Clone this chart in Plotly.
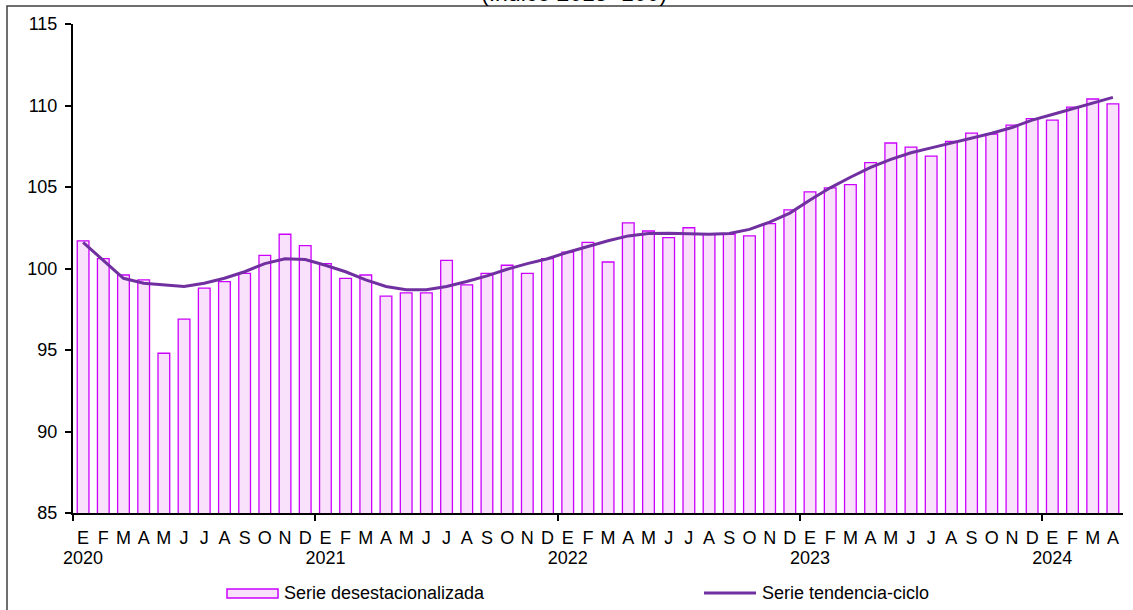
import plotly.graph_objects as go

# ---- data ----
month_letters = ["E", "F", "M", "A", "M", "J", "J", "A", "S", "O", "N", "D"]
years = ["2020", "2021", "2022", "2023", "2024"]

serie_desest = [
    101.7, 100.6, 99.6, 99.3, 94.8, 96.9, 98.8, 99.2, 99.7, 100.8, 102.1, 101.4,
    100.3, 99.4, 99.6, 98.3, 98.5, 98.5, 100.5, 99.0, 99.7, 100.2, 99.7, 100.6,
    101.0, 101.6, 100.4, 102.8, 102.3, 101.9, 102.5, 102.1, 102.1, 102.0, 102.75, 103.6,
    104.7, 104.95, 105.15, 106.5, 107.7, 107.45, 106.9, 107.8, 108.3, 108.25, 108.8, 109.2,
    109.1, 109.9, 110.4, 110.1,
]
serie_tend = [
    101.6, 100.5, 99.4, 99.1, 99.0, 98.9, 99.1, 99.4, 99.8, 100.3, 100.6, 100.55,
    100.2, 99.8, 99.3, 98.9, 98.7, 98.7, 98.9, 99.2, 99.55, 99.95, 100.3, 100.6,
    101.0, 101.35, 101.7, 102.0, 102.15, 102.17, 102.15, 102.1, 102.15, 102.4, 102.85, 103.4,
    104.2, 104.95, 105.6, 106.2, 106.7, 107.1, 107.4, 107.7, 108.0, 108.3, 108.65, 109.1,
    109.45, 109.8, 110.15, 110.5,
]
y_ticks = [85, 90, 95, 100, 105, 110, 115]

n = len(serie_desest)
xs = list(range(n))
tick_text = [month_letters[i % 12] for i in xs]
year_pos = [i for i in xs if i % 12 == 0]
year_bound = [i - 0.5 for i in year_pos]

FONT = "Arial, 'Liberation Sans', sans-serif"
FS = 18
BAR_FILL = "#F9E1FB"
BAR_LINE = "#CC00FF"
LINE_COL = "#7030A0"

fig = go.Figure()
fig.add_trace(go.Bar(
    x=xs, y=serie_desest, name="Serie desestacionalizada",
    marker=dict(color=BAR_FILL, line=dict(color=BAR_LINE, width=1.3)),
    showlegend=False,
))
fig.add_trace(go.Scatter(
    x=xs, y=serie_tend, name="Serie tendencia-ciclo", mode="lines",
    line=dict(color=LINE_COL, width=3), showlegend=False,
))
# invisible trace to activate the year axis
fig.add_trace(go.Scatter(x=[year_pos[0]], y=[serie_tend[0]], xaxis="x2",
                         mode="markers", marker=dict(opacity=0), showlegend=False,
                         hoverinfo="skip"))

L, R, T, B = 73, 10, 24, 97
W, H = 1133, 610
pw, ph = W - L - R, H - T - B

def px_x(p):
    return (p - L) / pw

def px_y(p):
    return (H - B - p) / ph

fig.update_layout(
    width=W, height=H,
    margin=dict(l=L, r=R, t=T, b=B),
    paper_bgcolor="white", plot_bgcolor="white",
    font=dict(family=FONT, size=FS, color="black"),
    bargap=0.42,
    xaxis=dict(
        range=[-0.5, n - 0.5],
        tickmode="array", tickvals=xs, ticktext=tick_text,
        ticks="", showgrid=False, zeroline=False,
        showline=True, linecolor="black", linewidth=2,
        ticklabelstandoff=7,
        tickfont=dict(size=FS),
        minor=dict(tickmode="array", tickvals=year_bound, ticks="outside",
                   ticklen=6, tickwidth=2, tickcolor="black", showgrid=False),
    ),
    xaxis2=dict(
        overlaying="x", matches="x", side="bottom", anchor="y",
        tickmode="array", tickvals=year_pos, ticktext=years,
        ticks="", showgrid=False, zeroline=False, showline=False,
        ticklabelstandoff=32, tickfont=dict(size=FS),
    ),
    yaxis=dict(
        range=[85, 115], tickmode="array", tickvals=y_ticks,
        ticks="outside", ticklen=6, tickwidth=2, tickcolor="black",
        showgrid=False, zeroline=False,
        showline=True, linecolor="black", linewidth=2,
        tickfont=dict(size=FS), ticklabelstandoff=4,
    ),
    shapes=[
        # outer frame
        dict(type="rect", xref="paper", yref="paper",
             x0=px_x(7), x1=px_x(1150), y0=px_y(630), y1=px_y(6),
             line=dict(color="#404040", width=1.5), fillcolor="rgba(0,0,0,0)"),
        # legend symbols
        dict(type="rect", xref="paper", yref="paper",
             x0=px_x(227), x1=px_x(278), y0=px_y(598), y1=px_y(589),
             line=dict(color=BAR_LINE, width=1.5), fillcolor=BAR_FILL),
        dict(type="line", xref="paper", yref="paper",
             x0=px_x(704), x1=px_x(756), y0=px_y(593), y1=px_y(593),
             line=dict(color=LINE_COL, width=3)),
    ],
    annotations=[
        dict(text="Serie desestacionalizada", xref="paper", yref="paper",
             x=px_x(282), y=px_y(593), xanchor="left", yanchor="middle",
             showarrow=False, font=dict(size=FS)),
        dict(text="Serie tendencia-ciclo", xref="paper", yref="paper",
             x=px_x(760), y=px_y(593), xanchor="left", yanchor="middle",
             showarrow=False, font=dict(size=FS)),
        dict(text="(Índice 2015=100)", xref="paper", yref="paper",
             x=px_x(574), y=px_y(8), xanchor="center", yanchor="bottom",
             showarrow=False, font=dict(size=23)),
    ],
)

fig.write_html(
    "out.html",
    config={"displayModeBar": False},
    post_script="document.body.style.margin='0';document.body.style.overflow='hidden';",
)
